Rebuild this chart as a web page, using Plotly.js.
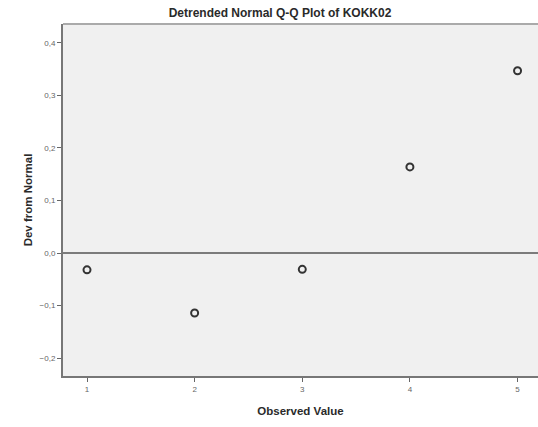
<!DOCTYPE html>
<html>
<head>
<meta charset="utf-8">
<script src="https://cdn.plot.ly/plotly-3.0.1.min.js"></script>
<style>html,body{margin:0;padding:0;background:#fff;}#chart{width:538px;height:427px;}</style>
</head>
<body>
<div id="chart"></div>
<script>
var observedValue = [1, 2, 3, 4, 5];
var devFromNormal = [-0.032, -0.114, -0.031, 0.164, 0.347];
var yTicks = [-0.2, -0.1, 0.0, 0.1, 0.2, 0.3, 0.4];
var xTicks = [1, 2, 3, 4, 5];

var trace = {
  x: observedValue,
  y: devFromNormal,
  mode: 'markers',
  type: 'scatter',
  marker: {symbol: 'circle-open', size: 7, color: '#333333', line: {width: 2, color: '#333333'}},
  hoverinfo: 'none'
};

var layout = {
  width: 538, height: 427,
  separators: ', ',
  margin: {l: 63, r: 0, t: 24, b: 51},
  paper_bgcolor: '#ffffff',
  plot_bgcolor: '#f0f0f0',
  showlegend: false,
  font: {family: 'Liberation Sans, Arial, sans-serif', color: '#222'},
  title: {text: '<b>Detrended Normal Q-Q Plot of KOKK02</b>', font: {size: 12, color: '#2a2a2a'}, x: 280/538, xanchor: 'center', y: 1 - 13/427, yanchor: 'middle'},
  xaxis: {
    range: [0.777, 5.19],
    tickvals: xTicks,
    ticktext: xTicks.map(String),
    ticks: 'outside', ticklen: 4, tickwidth: 1, tickcolor: '#666',
    tickfont: {size: 8, color: '#666'},
    showgrid: false, zeroline: false,
    showline: true, linecolor: '#777', linewidth: 2,
    title: {text: '<b>Observed Value</b>', font: {size: 11.5, color: '#2a2a2a'}, standoff: 14}
  },
  yaxis: {
    range: [-0.234, 0.436],
    tickvals: yTicks,
    tickformat: '.1f',
    ticks: 'outside', ticklen: 4, tickwidth: 1, tickcolor: '#666',
    tickfont: {size: 8, color: '#666'},
    showgrid: false, zeroline: false,
    showline: true, linecolor: '#777', linewidth: 2,
    title: {text: '<b>Dev from Normal</b>', font: {size: 11.5, color: '#2a2a2a'}, standoff: 5}
  },
  shapes: [
    {type: 'line', xref: 'paper', yref: 'y', x0: 0, x1: 1, y0: 0, y1: 0, line: {color: '#555', width: 1.5}},
    {type: 'line', xref: 'paper', yref: 'paper', x0: 0, x1: 1, y0: 1, y1: 1, line: {color: '#aaa', width: 2}}
  ]
};

Plotly.newPlot('chart', [trace], layout, {staticPlot: true, displayModeBar: false});
</script>
</body>
</html>
